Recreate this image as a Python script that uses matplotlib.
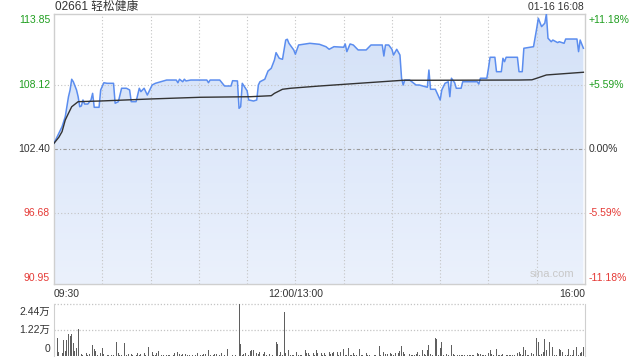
import numpy as np
import matplotlib
matplotlib.use('Agg')
import matplotlib.pyplot as plt
from matplotlib import transforms
from matplotlib.colors import LinearSegmentedColormap

plt.rcParams['font.family'] = ['Liberation Sans', 'Noto Sans CJK SC']

TITLE = '02661 轻松健康'
STAMP = '01-16 16:08'
PREV_CLOSE = 102.40
price_ticks = [113.85, 108.12, 102.40, 96.68, 90.95]
pct_ticks = ['+11.18%', '+5.59%', '0.00%', '-5.59%', '-11.18%']
time_labels = ['09:30', '12:00/13:00', '16:00']
time_label_pos = [0, 150, 330]
vol_ticks = [2.44, 1.22, 0]
vol_tick_labels = ['2.44万', '1.22万', '0']

# minute since 09:30 (lunch break removed), price
price_pts = [
    (0, 102.91), (2, 103.49), (5, 104.38), (7, 105.27), (9, 107.04), (10, 107.64),
    (11, 108.59), (12, 108.37), (14, 107.64), (15, 107.04), (16, 106.15), (17, 106.22),
    (18, 106.75), (19, 106.39), (21, 106.39), (23, 106.75), (24, 107.34), (25, 106.10),
    (28, 106.10), (29, 107.64), (31, 108.28), (33, 108.23), (37, 108.23), (38, 106.46),
    (40, 106.60), (42, 107.79), (45, 107.79), (47, 107.64), (48, 106.60), (51, 106.60),
    (53, 107.79), (54, 107.49), (56, 107.79), (58, 107.19), (61, 108.08), (63, 108.23),
    (70, 108.52), (76, 108.52), (77, 108.28), (78, 108.59), (80, 108.37), (81, 108.59),
    (82, 108.44), (85, 108.52), (95, 108.52), (96, 108.28), (97, 108.52), (103, 108.52),
    (106, 107.99), (110, 107.99), (111, 108.46), (114, 108.44), (115, 106.01), (116, 106.15),
    (117, 108.23), (120, 107.57), (121, 106.75), (124, 106.66), (126, 106.75), (127, 108.08),
    (128, 108.37), (131, 108.59), (133, 109.32), (135, 109.56), (137, 110.30), (138, 110.95),
    (140, 110.45), (142, 110.36), (144, 112.07), (145, 112.14), (146, 111.78), (149, 111.19),
    (150, 110.81), (152, 111.63), (159, 111.78), (165, 111.69), (169, 111.48), (171, 111.25),
    (174, 111.48), (180, 111.43), (181, 111.72), (182, 111.04), (184, 111.72), (186, 111.63),
    (189, 111.19), (194, 111.19), (197, 111.63), (204, 111.63), (205, 110.65), (206, 111.63),
    (208, 111.63), (210, 111.25), (211, 110.74), (213, 111.25), (215, 110.74), (216, 108.68),
    (217, 108.08), (218, 108.52), (221, 108.52), (225, 108.08), (227, 108.08), (232, 107.88),
    (233, 109.41), (234, 107.70), (237, 107.70), (240, 106.75), (241, 107.64), (243, 108.23),
    (245, 108.37), (246, 107.04), (247, 108.68), (249, 108.28), (250, 107.79), (253, 107.79),
    (254, 108.37), (263, 108.37), (264, 108.17), (265, 108.68), (269, 108.68), (270, 109.56),
    (271, 110.54), (274, 110.54), (275, 109.26), (278, 109.26), (279, 110.45), (280, 110.15),
    (281, 110.54), (288, 110.54), (289, 109.26), (291, 109.26), (292, 111.34), (298, 111.48),
    (300, 113.11), (301, 114.00), (303, 113.26), (305, 113.56), (306, 114.38), (307, 112.23),
    (309, 111.92), (310, 112.07), (313, 111.84), (314, 111.92), (317, 111.78), (318, 112.16),
    (325, 112.16), (326, 111.04), (327, 112.07), (329, 111.34),
]

avg_pts = [
    (0, 102.91), (3, 103.44), (5, 103.94), (7, 104.97), (9, 105.57), (11, 106.15),
    (15, 106.60), (29, 106.66), (60, 106.84), (91, 106.99), (122, 107.04), (135, 107.13),
    (137, 107.34), (142, 107.70), (147, 107.79), (165, 107.99), (217, 108.50), (234, 108.50),
    (289, 108.52), (297, 108.54), (300, 108.68), (306, 108.97), (329, 109.21),
]

# volume in 万 shares
vol_pts = [
    (2, 0.86), (3, 0.20), (5, 0.16), (6, 0.76), (7, 0.24), (8, 0.76), (9, 1.01), (10, 0.93),
    (11, 1.01), (12, 0.62), (13, 0.24), (14, 0.39), (15, 1.25), (17, 0.11), (18, 0.05),
    (20, 0.13), (21, 0.06), (22, 0.08), (24, 0.52), (25, 0.33), (26, 0.23), (27, 0.05),
    (29, 0.13), (30, 0.37), (31, 0.08), (33, 0.03), (34, 0.03), (36, 0.03), (37, 0.03),
    (39, 0.68), (40, 0.16), (41, 0.03), (42, 0.05), (44, 0.63), (45, 0.06), (46, 0.11),
    (48, 0.08), (49, 0.06), (51, 0.06), (52, 0.16), (53, 0.05), (54, 0.10), (56, 0.13),
    (57, 0.05), (59, 0.42), (61, 0.18), (62, 0.05), (63, 0.06), (64, 0.13), (65, 0.23),
    (67, 0.03), (68, 0.03), (70, 0.03), (71, 0.03), (72, 0.05), (74, 0.06), (75, 0.13),
    (77, 0.18), (78, 0.11), (79, 0.05), (80, 0.08), (82, 0.08), (83, 0.05), (84, 0.03),
    (86, 0.03), (87, 0.03), (88, 0.06), (89, 0.13), (91, 0.06), (92, 0.06), (93, 0.10),
    (94, 0.10), (96, 0.28), (97, 0.05), (99, 0.05), (100, 0.08), (101, 0.08), (103, 0.06),
    (104, 0.16), (106, 0.05), (108, 0.33),
    (110, 0.03), (111, 0.03), (113, 0.03), (115, 2.44), (116, 0.57), (117, 0.03), (118, 0.08),
    (119, 0.16), (121, 0.05), (122, 0.24), (123, 0.29), (124, 0.29), (126, 0.16), (127, 0.10),
    (128, 0.21), (130, 0.11), (131, 0.21), (132, 0.05), (133, 0.23), (134, 0.08), (136, 0.03),
    (138, 0.67), (139, 0.57), (140, 0.05), (141, 0.21), (142, 0.05), (143, 2.08), (144, 0.16),
    (146, 0.28), (147, 0.05), (148, 0.05), (149, 0.05), (151, 0.21), (152, 0.05), (153, 0.05),
    (154, 0.05), (156, 0.26), (157, 0.16), (158, 0.16), (159, 0.06), (161, 0.13), (162, 0.05),
    (163, 0.28), (164, 0.16), (166, 0.16), (167, 0.05), (168, 0.16), (169, 0.05), (171, 0.21),
    (172, 0.11), (173, 0.16), (174, 0.21), (176, 0.21), (177, 0.05), (178, 0.21), (180, 0.33),
    (181, 0.05), (182, 0.05), (183, 0.37), (184, 0.05), (185, 0.05), (186, 0.13), (187, 0.05),
    (188, 0.05), (190, 0.33), (191, 0.05), (192, 0.05), (194, 0.13), (195, 0.05), (196, 0.05),
    (197, 0.05), (199, 0.05), (200, 0.05), (202, 0.47), (203, 0.05), (205, 0.21), (206, 0.11),
    (207, 0.11), (209, 0.16), (210, 0.11), (211, 0.05), (212, 0.16), (214, 0.16), (215, 0.24),
    (216, 0.47), (217, 0.21), (218, 0.11), (220, 0.11),
    (221, 0.08), (222, 0.05), (223, 0.05), (224, 0.05), (225, 0.08), (226, 0.21), (227, 0.06),
    (229, 0.28), (230, 0.08), (231, 0.05), (232, 0.28), (233, 0.52), (234, 0.08), (235, 0.05),
    (237, 0.86), (238, 0.81), (239, 0.05), (240, 0.36), (241, 0.67), (242, 0.05), (243, 0.05),
    (244, 0.08), (245, 0.05), (247, 0.52), (248, 0.08), (249, 0.05), (251, 0.05), (252, 0.05),
    (253, 0.05), (254, 0.05), (255, 0.05), (257, 0.05), (258, 0.05), (259, 0.05), (260, 0.05),
    (261, 0.05), (263, 0.13), (264, 0.08), (265, 0.08), (266, 0.05), (267, 0.05), (268, 0.05),
    (270, 0.16), (271, 0.28), (272, 0.11), (273, 0.05), (275, 0.33), (276, 0.05), (277, 0.05),
    (278, 0.05), (279, 0.08), (281, 0.05), (282, 0.05), (283, 0.05), (284, 0.05), (285, 0.05),
    (286, 0.05), (288, 0.16), (289, 0.21), (290, 0.08), (291, 0.05), (292, 0.41), (293, 0.28),
    (294, 0.05), (295, 0.05), (297, 0.16), (298, 0.08), (300, 0.86), (301, 0.67), (302, 0.05),
    (303, 0.08), (304, 0.21), (305, 0.81), (306, 0.28), (307, 1.11), (308, 0.67), (310, 0.41),
    (311, 0.05), (312, 0.05), (314, 0.33), (315, 0.28), (316, 0.21), (318, 0.05), (319, 0.05),
    (320, 0.33), (321, 0.05), (322, 0.05), (323, 0.28), (325, 0.41), (326, 0.05), (327, 0.16),
    (328, 0.21), (329, 0.41),
]

t_price, price = np.array(price_pts).T
t_avg, avg = np.array(avg_pts).T
t_vol, vol = np.array(vol_pts).T

GREEN = '#1f9e1f'
RED = '#e53935'
GRID = '#c4c4c4'
SPINE = '#cfcfcf'
FS = 7.5

fig = plt.figure(figsize=(6.4, 3.6), dpi=100)
ax = fig.add_axes([54 / 640, 76 / 360, 531 / 640, 270 / 360])
span = 11.98
ax.set_xlim(0, 330)
ax.set_ylim(PREV_CLOSE - span, PREV_CLOSE + span)

# gradient fill under the price line
poly = ax.fill_between(t_price, price, PREV_CLOSE - span, color='none', lw=0)
cmap = LinearSegmentedColormap.from_list('fill', ['#ebf1fc', '#d3e1f8'])
grad = np.linspace(0, 1, 256).reshape(-1, 1)
im = ax.imshow(grad, cmap=cmap, aspect='auto', origin='lower',
               extent=[0, 330, PREV_CLOSE - span, PREV_CLOSE + span], zorder=1)
for p in poly.get_paths():
    im.set_clip_path(p, transform=ax.transData)

for m in range(30, 330, 30):
    ax.axvline(m, color=GRID, lw=0.8, ls=(0, (1, 2)), zorder=2)
for v in (price_ticks[1], price_ticks[3]):
    ax.axhline(v, color=GRID, lw=0.8, ls=(0, (1, 2)), zorder=2)
ax.axhline(PREV_CLOSE, color='#9a9a9a', lw=0.8, ls=(0, (3, 2, 1, 2)), zorder=2)

ax.plot(t_price, price, color='#5b8def', lw=1.1, zorder=4)
ax.plot(t_avg, avg, color='#333333', lw=1.0, zorder=5)

ax.set_xticks([])
ax.set_yticks([])
for s in ax.spines.values():
    s.set_color(SPINE)
    s.set_linewidth(1.0)

ytr = transforms.blended_transform_factory(ax.transAxes, ax.transData)
colors = [GREEN, GREEN, '#333333', RED, RED]
for v, pl, c in zip(price_ticks, pct_ticks, colors):
    ax.text(-4 / 531, v, f'{v:.2f}', ha='right', va='center', color=c,
            fontsize=FS, transform=ytr)
    ax.text(1 + 4 / 531, v, pl, ha='left', va='center', color=c,
            fontsize=FS, transform=ytr)

xtr = ax.get_xaxis_transform()
for lab, pos, ha in zip(time_labels, time_label_pos, ['left', 'center', 'right']):
    ax.text(pos, -10 / 270, lab, ha=ha, va='center', fontsize=FS,
            color='#333333', transform=xtr)

ax.text(0.98, 0.02, 'sina.com', ha='right', va='bottom', fontsize=8,
        color='#c8c8c8', transform=ax.transAxes, zorder=6)

fig.text(55 / 640, 1 - 7 / 360, TITLE, ha='left', va='center', fontsize=8.5,
         color='#333333')
fig.text(584 / 640, 1 - 7 / 360, STAMP, ha='right', va='center', fontsize=FS,
         color='#333333')

# volume panel
vx = fig.add_axes([54 / 640, 4 / 360, 531 / 640, 52 / 360])
vx.set_xlim(0, 330)
vx.set_ylim(0, 2.44)
vx.bar(t_vol, vol, width=0.6, color='#5f5f5f', lw=0, zorder=3)
for v in vol_ticks[:2]:
    vx.axhline(v, color=GRID, lw=0.9, ls=(0, (1, 1.5)), zorder=1, clip_on=False)
vx.set_xticks([])
vx.set_yticks([])
for side in ('top', 'bottom'):
    vx.spines[side].set_visible(False)
for side in ('left', 'right'):
    vx.spines[side].set_color(SPINE)
vtr = transforms.blended_transform_factory(vx.transAxes, vx.transData)
label_shift = [-8, 0, 7]  # pixels, labels sit inside the panel
for v, lab, dy in zip(vol_ticks, vol_tick_labels, label_shift):
    t = transforms.offset_copy(vtr, fig=fig, x=0, y=dy, units='dots')
    vx.text(-4 / 531, v, lab, ha='right', va='center', fontsize=FS,
            color='#333333', transform=t)

fig.savefig('out.png', dpi=100)
